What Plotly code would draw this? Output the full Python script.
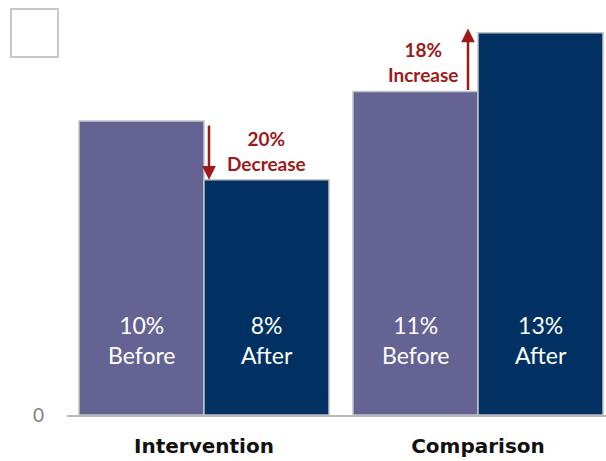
import plotly.graph_objects as go

groups = ["Intervention", "Comparison"]
before = [10, 11]
after = [8, 13]
series_names = ["Before", "After"]
colors = {"Before": "#656394", "After": "#003162"}

PX_PER_UNIT = 29.4
W, H = 606, 461
ml, mr, mt, mb = 67, 0, 18, 46
plot_h = H - mt - mb
ymax = plot_h / PX_PER_UNIT

fig = go.Figure()
for name, vals in zip(series_names, [before, after]):
    fig.add_trace(go.Bar(
        x=groups, y=vals, name=name,
        marker=dict(color=colors[name], line=dict(color="#c4c4c4", width=1.5)),
        showlegend=False, hoverinfo="skip",
    ))

annotations = []
# bar texts
for name, vals, shift in [("Before", before, -62.5), ("After", after, 62.5)]:
    for g, v in zip(groups, vals):
        annotations.append(dict(
            x=g, y=2.55, xref="x", yref="y", xshift=shift,
            text=f"{v}%<br>{name}", showarrow=False,
            font=dict(family="Lato, Open Sans, sans-serif", size=23, color="white"),
            align="center", yanchor="middle",
        ))

dark_red = "#9E1A1A"
# change arrows and labels
for g, b, a in zip(groups, before, after):
    pct = round((a - b) / b * 100)
    word = "Increase" if pct > 0 else "Decrease"
    if pct < 0:
        annotations.append(dict(
            x=g, y=a, xref="x", yref="y", xshift=5,
            ax=0, ay=b - 0.1, axref="pixel", ayref="y",
            showarrow=True, arrowhead=2, arrowsize=1.1, arrowwidth=2.5,
            arrowcolor=dark_red, text="",
        ))
        annotations.append(dict(
            x=g, y=8.98, xref="x", yref="y", xshift=62,
            text=f"<b>{abs(pct)}%<br>{word}</b>", showarrow=False,
            font=dict(family="Lato, sans-serif", size=19, color=dark_red),
            align="center", yanchor="middle",
        ))
    else:
        annotations.append(dict(
            x=g, y=a + 0.15, xref="x", yref="y", xshift=-10,
            ax=0, ay=b, axref="pixel", ayref="y",
            showarrow=True, arrowhead=2, arrowsize=1.1, arrowwidth=2.5,
            arrowcolor=dark_red, text="",
        ))
        annotations.append(dict(
            x=g, y=12.0, xref="x", yref="y", xshift=-55,
            text=f"<b>{pct}%<br>{word}</b>", showarrow=False,
            font=dict(family="Lato, sans-serif", size=19, color=dark_red),
            align="center", yanchor="middle",
        ))

plot_w = W - ml - mr
fig.update_layout(
    width=W, height=H,
    margin=dict(l=ml, r=mr, t=mt, b=mb, pad=0),
    paper_bgcolor="white", plot_bgcolor="white",
    barmode="group", bargap=24 / 274, bargroupgap=0,
    annotations=annotations,
    shapes=[dict(
        type="rect", xref="paper", yref="paper",
        x0=(11 - ml) / plot_w, x1=(58 - ml) / plot_w,
        y0=(H - mb - 57) / plot_h, y1=(H - mb - 9) / plot_h,
        line=dict(color="#c8c8c8", width=2), fillcolor="white",
    )],
    xaxis=dict(
        range=[-0.5, -0.5 + plot_w / 274],
        showline=True, linecolor="#b8b8b8", linewidth=2,
        showgrid=False, zeroline=False,
        ticks="", ticklabelstandoff=12,
        tickfont=dict(family="DejaVu Sans, sans-serif", size=20, color="#111111", weight="bold"),
    ),
    yaxis=dict(
        range=[0, ymax], tickvals=[0], ticktext=["0"],
        showline=False, showgrid=False, zeroline=False,
        ticks="", ticklabelstandoff=22,
        tickfont=dict(family="Lato, sans-serif", size=19, color="#7f7f7f"),
    ),
)

fig.write_html("out.html")
